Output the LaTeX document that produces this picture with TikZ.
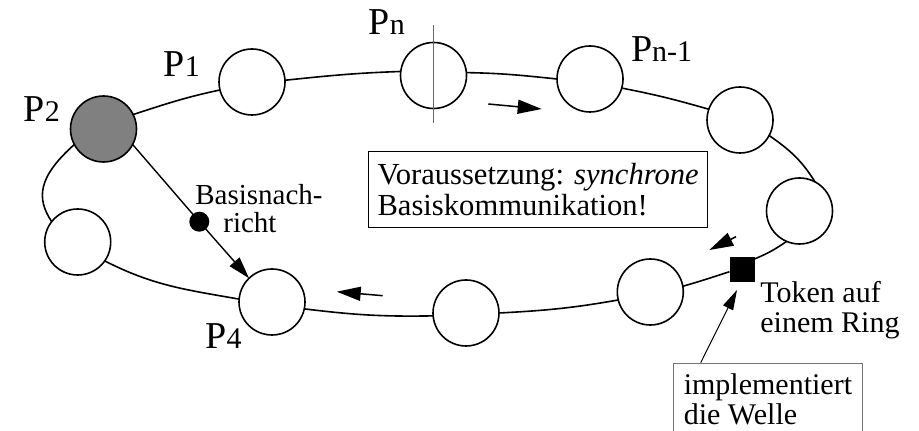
\documentclass[tikz,border=0pt]{standalone}
\usepackage{fontspec}
\setmainfont{Liberation Serif}
\usetikzlibrary{arrows.meta}
\newcommand\plabel[1]{{\fontsize{19}{19}\selectfont P}{\fontsize{15}{15}\selectfont #1}}
\begin{document}
\begin{tikzpicture}[x=0.5pt,y=0.5pt,
  proc/.style={circle,draw,line width=0.8pt,fill=white,minimum size=33pt,inner sep=0pt,outer sep=0pt},
  active/.style={proc,fill=black!50},
  tokenbox/.style={rectangle,fill=black,minimum size=12.5pt,inner sep=0pt,outer sep=0pt},
  msgdot/.style={circle,fill=black,minimum size=10pt,inner sep=0pt,outer sep=0pt},
  ring/.style={line width=0.8pt},
  lab/.style={inner sep=0pt,anchor=base west},
  txt/.style={inner sep=0pt,anchor=north west,align=left,font=\fontsize{15}{15}\selectfont},
  notebox/.style={draw,line width=0.7pt,align=left,inner sep=0pt,minimum width=169.5pt,minimum height=38pt,anchor=north west,font=\fontsize{15.3}{15.35}\selectfont},
  implbox/.style={draw=black!55,line width=0.5pt,align=left,inner xsep=5pt,inner ysep=5pt,anchor=north west,font=\fontsize{15}{15}\selectfont},
  dirarrow/.style={line width=0.75pt,-{Triangle[length=12pt,width=7pt]}},
  msgarrow/.style={line width=0.7pt,-{Triangle[length=11pt,width=6.5pt]}},
  thinarrow/.style={line width=0.5pt,-{Triangle[length=10pt,width=5.5pt]}},
  marker/.style={line width=0.5pt,black!60}]
\useasboundingbox (0,0) rectangle (919,-431);
\clip (0,0) rectangle (919,-431);

% processes
\node[active] (p2) at (103.5,-129) {};
\node[proc] (p1) at (252,-82) {};
\node[proc] (pn) at (433.5,-75.5) {};
\node[proc] (pnm) at (590,-79) {};
\node[proc] (c6) at (740,-120) {};
\node[proc] (c7) at (799.5,-211) {};
\node[tokenbox] (tok) at (742,-269.5) {};
\node[proc] (c8) at (650.3,-292) {};
\node[proc] (c9) at (466,-313) {};
\node[proc] (p4) at (272,-302) {};
\node[proc] (p3) at (77.7,-242) {};
\node[msgdot] (dot) at (199.3,-221.7) {};

% ring
\draw[ring] (p2.26) to[out=18,in=192] (p1.194);
\draw[ring] (p1.3) to[out=6,in=182] (pn.173);
\draw[ring] (pn.5) to[out=-1,in=174] (pnm.180);
\draw[ring] (pnm.-16) to[out=-11,in=164] (c6.161);
\draw[ring] (c6.-28) to[out=-35,in=122] (c7.62);
\draw[ring] (c7.247) to[out=215,in=23] (tok.40);
\draw[ring] (tok.190) to[out=198,in=16] (c8.10);
\draw[ring] (c8.194) to[out=190,in=3] (c9.0);
\draw[ring] (c9.185) to[out=181,in=-7] (p4.-12.5);
\draw[ring] (p4.175) to[out=170,in=-27] (p3.-35);
\draw[ring] (p3.142) .. controls (36,-198) and (38,-177) .. (p2.208);

% marker through Pn
\draw[marker] (433.3,-25) -- (433.3,-123.3);

% direction arrows
\draw[dirarrow] (488.3,-104) -- (541.7,-109);
\draw[dirarrow] (736,-236.7) -- (709.3,-250);
\draw[dirarrow] (382.7,-295.7) -- (336.7,-291.7);

% basic message
\draw[msgarrow] (p2.-28) -- (dot.center) -- (p4.134);
\node[txt,font=\fontsize{14.5}{14.2}\selectfont] (bn) at (195,-183.5) {Basisnach-\\\hspace*{14pt}richt};

% labels
\node[lab] (l1) at (163.3,-76.7) {\plabel{1}};
\node[lab] (l2) at (23.3,-121.7) {\plabel{2}};
\node[lab] (ln) at (368.3,-35) {\plabel{n}};
\node[lab] (lnm) at (630.7,-61.7) {\plabel{n-1}};
\node[lab] (l4) at (205,-348.3) {\plabel{4}};

% notes
\node[notebox] (vor) at (368,-151) {Voraussetzung: \textit{synchrone}\\Basiskommunikation!};
\node[txt] (tl) at (760,-281.2) {Token auf\\einem Ring};
\node[implbox] (impl) at (673.3,-362.7) {implementiert\\die Welle};
\draw[thinarrow] (impl.north west) ++(27.4,0) -- ([shift={(-5,-8)}]tok.south);
\end{tikzpicture}
\end{document}
